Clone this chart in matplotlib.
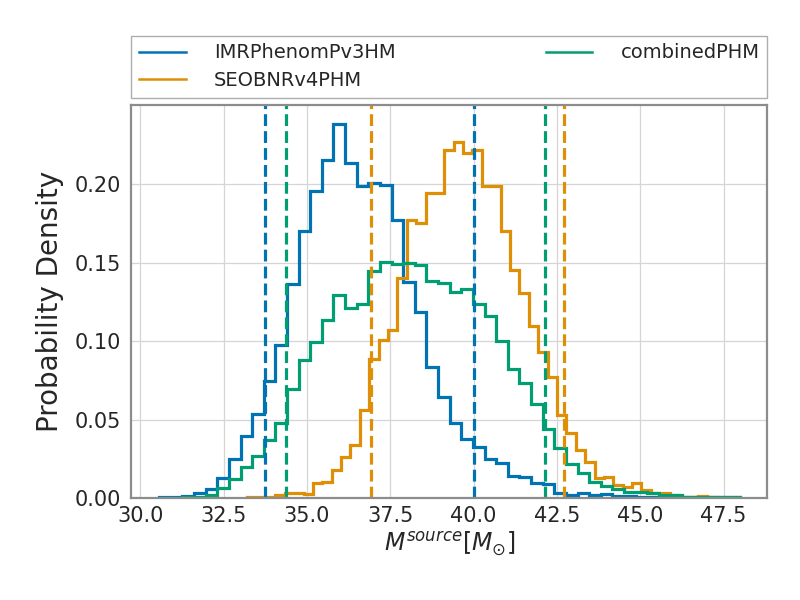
import numpy as np
import matplotlib
matplotlib.use("Agg")
import matplotlib.pyplot as plt

# source-frame total mass posteriors, density histograms (50 bins each)
imr_label = "IMRPhenomPv3HM"
imr_range = (30.57, 48.00)
imr_density = [0.0004, 0.0004, 0.0013, 0.0034, 0.0060, 0.0130, 0.0247, 0.0396, 0.0536, 0.0743,
               0.0977, 0.1367, 0.1705, 0.1956, 0.2152, 0.2386, 0.2137, 0.1988, 0.2005, 0.1992,
               0.1771, 0.1375, 0.1183, 0.0832, 0.0641, 0.0481, 0.0375, 0.0328, 0.0247, 0.0226,
               0.0140, 0.0132, 0.0094, 0.0087, 0.0030, 0.0021, 0.0030, 0.0017, 0.0026, 0.0010,
               0.0010, 0.0009, 0.0009, 0.0004, 0.0004, 0.0004, 0.0004, 0.0004, 0.0004, 0.0004]
imr_interval = [33.73, 40.00]

seob_label = "SEOBNRv4PHM"
seob_range = (33.21, 47.29)
seob_density = [0.0004, 0.0004, 0.0004, 0.0019, 0.0030, 0.0034, 0.0023, 0.0094, 0.0100, 0.0179,
                0.0260, 0.0338, 0.0562, 0.0885, 0.1005, 0.1069, 0.1403, 0.1771, 0.1754, 0.1946,
                0.1946, 0.2218, 0.2269, 0.2197, 0.2218, 0.1988, 0.1988, 0.1700, 0.1456, 0.1307,
                0.1098, 0.0928, 0.0771, 0.0530, 0.0413, 0.0307, 0.0232, 0.0126, 0.0132, 0.0080,
                0.0068, 0.0098, 0.0051, 0.0034, 0.0034, 0.0019, 0.0009, 0.0009, 0.0013, 0.0009]
seob_interval = [36.93, 42.70]

comb_label = "combinedPHM"
comb_range = (30.57, 48.00)
comb_density = [0.0002, 0.0002, 0.0004, 0.0009, 0.0019, 0.0062, 0.0121, 0.0200, 0.0268, 0.0370,
                0.0481, 0.0694, 0.0881, 0.0994, 0.1132, 0.1296, 0.1211, 0.1239, 0.1445, 0.1505,
                0.1494, 0.1499, 0.1484, 0.1386, 0.1371, 0.1311, 0.1332, 0.1239, 0.1162, 0.0998,
                0.0822, 0.0732, 0.0600, 0.0438, 0.0321, 0.0217, 0.0162, 0.0104, 0.0077, 0.0060,
                0.0040, 0.0040, 0.0030, 0.0017, 0.0017, 0.0009, 0.0009, 0.0006, 0.0004, 0.0004]
comb_interval = [34.36, 42.13]

colors = ["#0173b2", "#de8f05", "#029e73"]

plt.rcParams["font.family"] = ["DejaVu Sans"]
fig = plt.figure(figsize=(8, 6), dpi=100)
ax = fig.add_axes([0.164, 0.17, 0.795, 0.655])

series = [(imr_label, imr_range, imr_density, imr_interval),
          (seob_label, seob_range, seob_density, seob_interval),
          (comb_label, comb_range, comb_density, comb_interval)]

for (label, rng, dens, ci), col in zip(series, colors):
    edges = np.linspace(rng[0], rng[1], len(dens) + 1)
    ax.stairs(dens, edges, color=col, lw=2.3, label=label)

# 90% credible bounds
for (label, rng, dens, ci), col in zip(series, colors):
    for v in ci:
        ax.axvline(v, color=col, ls="--", lw=2.3)

ax.set_xlim(29.73, 48.81)
ax.set_ylim(0, 0.2505)
ax.set_xticks(np.arange(30, 48, 2.5))
ax.set_yticks([0, 0.05, 0.10, 0.15, 0.20])
ax.set_yticklabels(["0.00", "0.05", "0.10", "0.15", "0.20"])

ax.set_axisbelow(True)
ax.grid(True, color="#d5d5d5", lw=0.9)
for sp in ax.spines.values():
    sp.set_color("#8c8c8c")
    sp.set_linewidth(1.6)
ax.tick_params(length=0, colors="#262626", labelsize=15)
ax.tick_params(axis="y", pad=7)
ax.tick_params(axis="x", pad=6)

ax.set_ylabel("Probability Density", fontsize=20, color="#262626", labelpad=8)
ax.set_xlabel(r"$M^{source} [M_{\odot}]$", fontsize=17, color="#262626", labelpad=2)

leg = ax.legend(bbox_to_anchor=(0, 1.018, 1, 0.16), loc="lower left", mode="expand",
                ncol=2, borderaxespad=0, fancybox=False, fontsize=14,
                labelspacing=0.45, handlelength=2.4, handletextpad=1.45)
leg.get_frame().set_edgecolor("#999999")
leg.get_frame().set_linewidth(1.0)
for t in leg.get_texts():
    t.set_color("#262626")
for h in leg.legend_handles:
    h.set_linewidth(1.8)

fig.savefig("out.png", dpi=100)
